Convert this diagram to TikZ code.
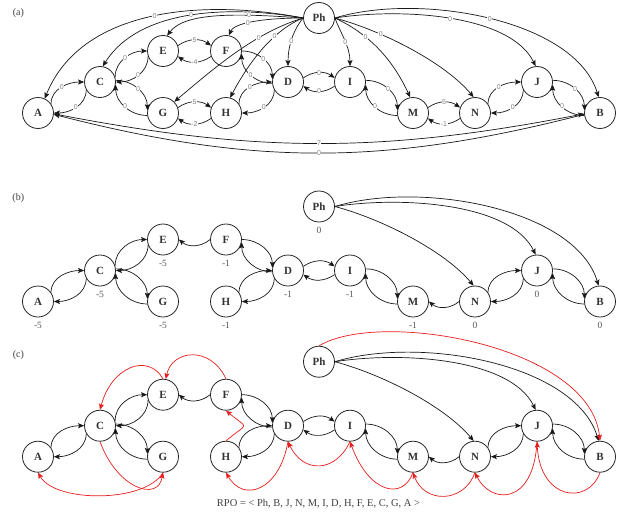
\documentclass[tikz,border=0pt]{standalone}
\usepackage{fontspec}
\setmainfont{Liberation Serif}
\setsansfont{Liberation Sans}
\usetikzlibrary{arrows.meta}

\definecolor{rpored}{RGB}{232,30,30}
\definecolor{wgray}{RGB}{128,128,128}

\tikzset{
  vtx/.style={circle, draw=black!85, line width=0.8pt, minimum size=31pt, inner sep=0pt,
              font=\fontsize{11}{11}\selectfont\bfseries, text=black!80},
  arc/.style={line width=0.7pt, draw=black!90, -{Stealth[length=6pt,width=5pt,inset=1.2pt]}},
  redarc/.style={arc, draw=rpored},
  w/.style={font=\sffamily\fontsize{7}{7}\selectfont, text=wgray, fill=white, inner sep=0.5pt},
  wl/.style={edge node={node[w]{#1}}},
  wlat/.style 2 args={edge node={node[w,pos=#1]{#2}}},
  val/.style={font=\fontsize{9.5}{9.5}\selectfont, text=black!65},
  tag/.style={font=\fontsize{10}{10}\selectfont, text=black!75},
}

% one row of vertices, shifted down by #2 pt, names prefixed by #1
\newcommand\vertexrow[2]{%
  \begin{scope}[yshift=-#2pt]
    \node[vtx] (#1Ph) at (319,-18) {Ph};
    \node[vtx] (#1A) at (38,-113) {A};
    \node[vtx] (#1C) at (100,-82) {C};
    \node[vtx] (#1E) at (163,-51) {E};
    \node[vtx] (#1F) at (226,-51) {F};
    \node[vtx] (#1G) at (163,-113) {G};
    \node[vtx] (#1H) at (226,-113) {H};
    \node[vtx] (#1D) at (288,-82) {D};
    \node[vtx] (#1I) at (350,-82) {I};
    \node[vtx] (#1M) at (413,-113) {M};
    \node[vtx] (#1N) at (475,-113) {N};
    \node[vtx] (#1J) at (537,-82) {J};
    \node[vtx] (#1B) at (600,-113) {B};
  \end{scope}}

% arcs present in every row
\newcommand\sharededges[1]{%
  \draw[arc] (#1A.35) to[out=90,in=180,wl=0] (#1C.180);
  \draw[arc] (#1C.-150) to[out=-90,in=0,wl=0] (#1A.0);
  \draw[arc] (#1C.18) to[out=90,in=180,wl=0] (#1E.180);
  \draw[arc] (#1E.-160) to[out=-90,in=0,wl=0] (#1C.0);
  \draw[arc] (#1C.6) to[out=0,in=90,wl=0] (#1G.170);
  \draw[arc] (#1G.-171) to[out=180,in=-90,wl=0] (#1C.-10);
  \draw[arc] (#1F.0) to[out=0,in=90,wl=0] (#1D.170);
  \draw[arc] (#1D.-175) to[out=180,in=-90,wl=0] (#1F.-10);
  \draw[arc] (#1H.35) to[out=90,in=180,wl=0] (#1D.180);
  \draw[arc] (#1D.-150) to[out=-90,in=0,wl=0] (#1H.0);
  \draw[arc] (#1D.15) to[bend left=35,wl=0] (#1I.165);
  \draw[arc] (#1I.-165) to[bend left=35,wl=0] (#1D.-15);
  \draw[arc] (#1I.6) to[out=0,in=90,wl=0] (#1M.170);
  \draw[arc] (#1M.-171) to[out=180,in=-90,wl=0] (#1I.-10);
  \draw[arc] (#1N.35) to[out=90,in=180,wl=0] (#1J.180);
  \draw[arc] (#1J.-150) to[out=-90,in=0,wl=0] (#1N.0);
  \draw[arc] (#1J.6) to[out=0,in=90,wl=0] (#1B.170);
  \draw[arc] (#1B.-171) to[out=180,in=-90,wl=0] (#1J.-10);
  \draw[arc] (#1Ph.east) to[out=-15,in=130,out distance=50pt,in distance=45pt,wlat={0.3}{0}] (#1N.95);
  \draw[arc] (#1Ph.east) to[out=9,in=116,out distance=66pt,in distance=58pt,wl=0] (#1J.95);
  \draw[arc] (#1Ph.east) to[out=17,in=107,out distance=89pt,in distance=81pt,wl=0] (#1B.95);
}

\begin{document}
\begin{tikzpicture}[x=1pt,y=1pt]
  \fill[white] (0,0) rectangle (626,-514);
  \useasboundingbox (0,0) rectangle (626,-514);

  % ---------------- (a) full graph with weights ----------------
  \node[tag] (taga) at (18.3,-12.7) {(a)};
  \vertexrow{a}{0}
  \sharededges{a}
  \draw[arc] (aE.20) to[bend left=35,wl=5] (aF.160);
  \draw[arc] (aF.-160) to[bend left=35,wl=-4] (aE.-20);
  \draw[arc] (aG.20) to[bend left=35,wl=5] (aH.160);
  \draw[arc] (aH.-160) to[bend left=35,wl=-2] (aG.-20);
  \draw[arc] (aM.20) to[bend left=35,wl=5] (aN.160);
  \draw[arc] (aN.-160) to[bend left=35,wl=-1] (aM.-20);
  \draw[arc] (aA.-3) to[bend right=11,wl=7] (aB.-177);
  \draw[arc] (aB.-175) to[bend left=14.4,wl=0] (aA.-5);
  \draw[arc] (aPh.west) .. controls +(169:105pt) and +(68:96pt) .. (aA.65) node[w,pos=0.48]{0};
  \draw[arc] (aPh.west) .. controls +(170:70pt) and +(58:70pt) .. (aC.80) node[w,pos=0.5]{0};
  \draw[arc] (aPh.west) .. controls +(176:64pt) and +(53:30pt) .. (aE.75) node[w,pos=0.3]{0};
  \draw[arc] (aPh.west) .. controls +(180:34pt) and +(65:15pt) .. (aF.80) node[w,pos=0.6]{0};
  \draw[arc] (aPh.west) .. controls +(-163:51pt) and +(40:53pt) .. (aG.45) node[w,pos=0.32]{0};
  \draw[arc] (aPh.west) .. controls +(-158:31pt) and +(62:43pt) .. (aH.75) node[w,pos=0.35]{0};
  \draw[arc] (aPh.west) .. controls +(-130:15pt) and +(90:20pt) .. (aD.north) node[w,pos=0.55]{0};
  \draw[arc] (aPh.east) .. controls +(-70:15pt) and +(90:20pt) .. (aI.north) node[w,pos=0.55]{0};
  \draw[arc] (aPh.east) .. controls +(-25:40pt) and +(115:40pt) .. (aM.100) node[w,pos=0.32]{0};

  % ---------------- (b) ----------------
  \node[tag] (tagb) at (18.3,-198.3) {(b)};
  \vertexrow{b}{188.5}
  \begin{scope}[wl/.style={}, wlat/.style 2 args={}]
    \sharededges{b}
  \end{scope}
  \draw[arc] (bF.west) to[bend left=40] (bE.east);
  \draw[arc] (bN.west) to[bend left=40] (bM.east);
  \foreach \v/\t in {A/-5, C/-5, E/-5, G/-5, F/-1, H/-1, D/-1, I/-1, M/-1, Ph/0, N/0, J/0, B/0}
    \node[val, below=1pt] (bv\v) at (b\v.south) {\t};

  % ---------------- (c) ----------------
  \node[tag] (tagc) at (18.3,-355) {(c)};
  \vertexrow{c}{343.7}
  \begin{scope}[wl/.style={}, wlat/.style 2 args={}]
    \sharededges{c}
  \end{scope}
  \draw[arc] (cF.west) to[bend left=40] (cE.east);
  \draw[arc] (cN.west) to[bend left=40] (cM.east);
  % reverse post-order chain
  \draw[redarc] (cPh.north) .. controls +(31:71pt) and +(96:96pt) .. (cB.north);
  \draw[redarc] (cB.south) .. controls +(-110:35pt) and +(-87:59pt) .. (cJ.south);
  \draw[redarc] (cJ.south) .. controls +(-93:65pt) and +(-64:35pt) .. (cN.south);
  \draw[redarc] (cN.south) .. controls +(-110:33pt) and +(-70:33pt) .. (cM.south);
  \draw[redarc] (cM.south) .. controls +(-110:30pt) and +(-70:55pt) .. (cI.south);
  \draw[redarc] (cI.south) .. controls +(-115:35pt) and +(-65:35pt) .. (cD.south);
  \draw[redarc] (cD.south) .. controls +(-100:50pt) and +(-60:35pt) .. (cH.south);
  \draw[redarc] (cH.north) .. controls +(40:30pt) and +(-40:30pt) .. (cF.south);
  \draw[redarc] (cF.north) .. controls +(115:37pt) and +(78:30pt) .. (cE.80);
  \draw[redarc] (cE.north) .. controls +(120:30pt) and +(75:45pt) .. (cC.north);
  \draw[redarc] (cC.south) .. controls +(-70:50pt) and +(-100:30pt) .. (cG.south);
  \draw[redarc] (cG.south) .. controls +(-120:35pt) and +(-60:35pt) .. (cA.south);
  \node[tag, font=\fontsize{10.5}{10.5}\selectfont] (rpo) at (318.5,-503.3) {RPO = < Ph, B, J, N, M, I, D, H, F, E, C, G, A >};
\end{tikzpicture}
\end{document}
